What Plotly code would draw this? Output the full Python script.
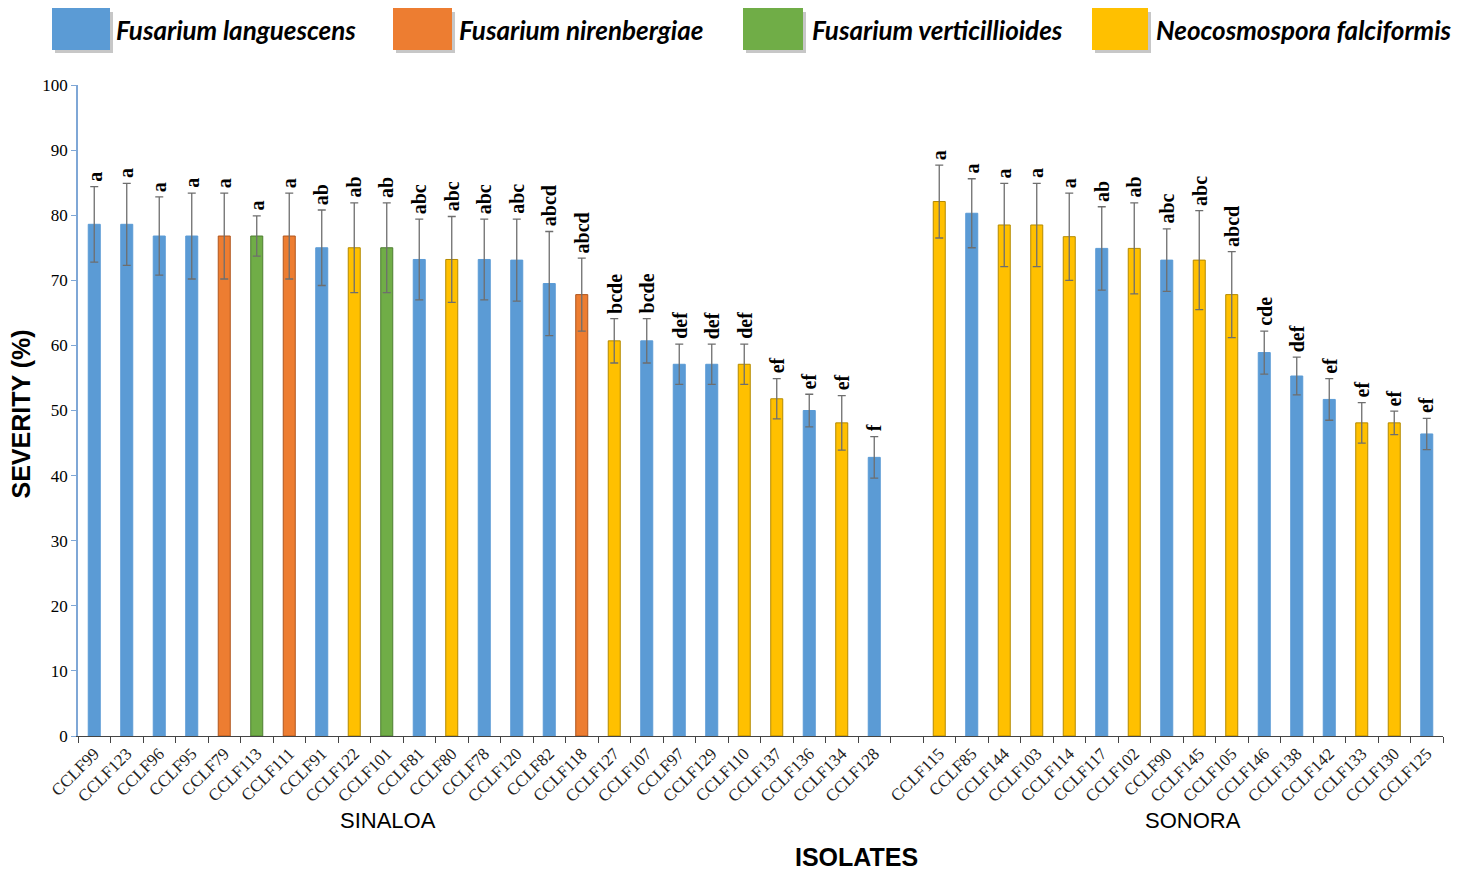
import plotly.graph_objects as go

# ---------------- data ----------------
sinaloa_isolates = ["CCLF99", "CCLF123", "CCLF96", "CCLF95", "CCLF79", "CCLF113", "CCLF111",
                    "CCLF91", "CCLF122", "CCLF101", "CCLF81", "CCLF80", "CCLF78", "CCLF120",
                    "CCLF82", "CCLF118", "CCLF127", "CCLF107", "CCLF97", "CCLF129", "CCLF110",
                    "CCLF137", "CCLF136", "CCLF134", "CCLF128"]
sinaloa_species = ["L", "L", "L", "L", "N", "V", "N", "L", "F", "V", "L", "F", "L", "L",
                   "L", "N", "F", "L", "L", "L", "F", "F", "L", "F", "L"]
sinaloa_severity = [78.6, 78.6, 76.8, 76.8, 76.8, 76.8, 76.8, 75.0, 75.0, 75.0, 73.2, 73.2, 73.2,
                    73.1, 69.5, 67.8, 60.7, 60.7, 57.1, 57.1, 57.1, 51.8, 50.0, 48.1, 42.8]
sinaloa_error = [5.8, 6.3, 6.0, 6.6, 6.6, 3.1, 6.6, 5.8, 6.9, 6.9, 6.2, 6.6, 6.2,
                 6.3, 8.0, 5.6, 3.4, 3.4, 3.1, 3.1, 3.1, 3.1, 2.5, 4.2, 3.2]
sinaloa_letters = ["a", "a", "a", "a", "a", "a", "a", "ab", "ab", "ab", "abc", "abc", "abc",
                   "abc", "abcd", "abcd", "bcde", "bcde", "def", "def", "def", "ef", "ef", "ef", "f"]

sonora_isolates = ["CCLF115", "CCLF85", "CCLF144", "CCLF103", "CCLF114", "CCLF117", "CCLF102",
                   "CCLF90", "CCLF145", "CCLF105", "CCLF146", "CCLF138", "CCLF142", "CCLF133",
                   "CCLF130", "CCLF125"]
sonora_species = ["F", "L", "F", "F", "F", "L", "F", "L", "F", "F", "L", "L", "L", "F", "F", "L"]
sonora_severity = [82.1, 80.3, 78.5, 78.5, 76.7, 74.9, 74.9, 73.1, 73.1, 67.8,
                   58.9, 55.3, 51.7, 48.1, 48.1, 46.4]
sonora_error = [5.6, 5.3, 6.4, 6.4, 6.7, 6.4, 7.0, 4.8, 7.6, 6.6,
                3.3, 2.9, 3.2, 3.1, 1.8, 2.4]
sonora_letters = ["a", "a", "a", "a", "a", "ab", "ab", "abc", "abc", "abcd",
                  "cde", "def", "ef", "ef", "ef", "ef"]

species_names = {"L": "Fusarium languescens", "N": "Fusarium nirenbergiae",
                 "V": "Fusarium verticillioides", "F": "Neocosmospora falciformis"}
species_fill = {"L": "#5B9BD5", "N": "#ED7D31", "V": "#70AD47", "F": "#FFC000"}
species_edge = {"L": "#5B9BD5", "N": "#B0561E", "V": "#4E7E30", "F": "#B48A00"}

gap = " "
categories = sinaloa_isolates + [gap] + sonora_isolates
species = sinaloa_species + [None] + sonora_species
severity = sinaloa_severity + [None] + sonora_severity
errors = sinaloa_error + [None] + sonora_error
letters = sinaloa_letters + [None] + sonora_letters

fig = go.Figure()
fig.add_trace(go.Bar(
    x=categories, y=severity, width=0.37,
    marker=dict(color=[species_fill.get(s, "rgba(0,0,0,0)") for s in species],
                line=dict(color=[species_edge.get(s, "rgba(0,0,0,0)") for s in species], width=1)),
    error_y=dict(type="data", array=errors, visible=True, color="#6E6E6E", thickness=1.3, width=4),
    showlegend=False,
))

serif = "Liberation Serif"
# significance letters
for c, v, e, l in zip(categories, severity, errors, letters):
    if v is None:
        continue
    fig.add_annotation(x=c, y=v + e, text=f"<b>{l}</b>", textangle=-90, showarrow=False,
                       xanchor="center", yanchor="bottom", yshift=3,
                       font=dict(family=serif, size=20, color="black"))

# group labels and axis titles
fig.add_annotation(xref="paper", yref="paper", x=0.227, y=0, yshift=-84, text="SINALOA",
                   xanchor="center", yanchor="middle",
                   showarrow=False, font=dict(family="Liberation Sans", size=22, color="black"))
fig.add_annotation(xref="paper", yref="paper", x=0.817, y=0, yshift=-84, text="SONORA",
                   xanchor="center", yanchor="middle",
                   showarrow=False, font=dict(family="Liberation Sans", size=22, color="black"))
fig.add_annotation(xref="paper", yref="paper", x=0.570, y=0, yshift=-121, text="<b>ISOLATES</b>",
                   xanchor="center", yanchor="middle",
                   showarrow=False, font=dict(family="Liberation Sans", size=25, color="black"))
fig.add_annotation(xref="paper", yref="paper", x=0, xshift=-58, y=0.5, yshift=-4,
                   xanchor="center", yanchor="middle",
                   text="<b>SEVERITY (%)</b>", textangle=-90, showarrow=False,
                   font=dict(family="Liberation Sans", size=25, color="black"))

# legend (big squares as in the original); pixel positions relative to the plot area
legend_items = [("L", 52, 110, 114), ("N", 393, 452, 457), ("V", 743, 803, 810), ("F", 1092, 1148, 1154)]
PX0, PW, PY0, PH = 78, 1365, 736, 651
for key, x0, x1, tx in legend_items:
    fig.add_shape(type="rect", xref="paper", yref="paper",
                  x0=(x0 + 3 - PX0) / PW, x1=(x1 + 3 - PX0) / PW,
                  y0=(PY0 - 53) / PH, y1=(PY0 - 12) / PH,
                  fillcolor="rgba(0,0,0,0.22)", line=dict(width=0), layer="above")
    fig.add_shape(type="rect", xref="paper", yref="paper",
                  x0=(x0 - PX0) / PW, x1=(x1 - PX0) / PW,
                  y0=(PY0 - 50) / PH, y1=(PY0 - 8) / PH,
                  fillcolor=species_fill[key], line=dict(width=0), layer="above")
    fig.add_annotation(xref="paper", yref="paper", x=(tx - PX0) / PW, y=(PY0 - 30) / PH,
                       xanchor="left", yanchor="middle", showarrow=False,
                       text=f"<b><i>{species_names[key]}</i></b>",
                       font=dict(family="Lato", size=26, color="black"))

fig.update_layout(
    width=1462, height=865,
    margin=dict(l=70, r=27, t=77, b=137),
    plot_bgcolor="white", paper_bgcolor="white",
    xaxis=dict(type="category", categoryorder="array", categoryarray=categories,
               tickangle=-45, tickfont=dict(family=serif, size=17, color="#222222"),
               showline=True, linecolor="#444444", linewidth=1,
               ticks="outside", tickson="boundaries", ticklen=6, tickcolor="#444444",
               showgrid=False, zeroline=False),
    yaxis=dict(range=[0, 100], dtick=10, tickfont=dict(family=serif, size=17, color="black"),
               showline=True, linecolor="#7FA7D6", linewidth=1.5,
               ticks="outside", ticklen=5, tickcolor="#7FA7D6",
               showgrid=False, zeroline=False),
)

fig.write_html("out.html")
